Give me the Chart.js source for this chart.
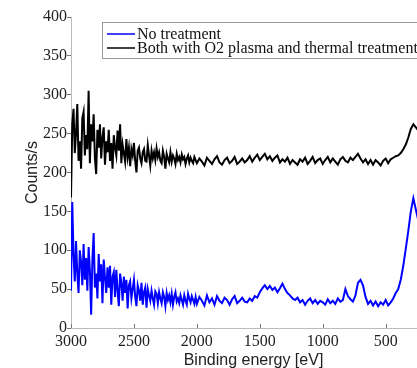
<!DOCTYPE html>
<html>
<head>
<meta charset="utf-8">
<title>XPS survey</title>
<script src="https://cdn.jsdelivr.net/npm/chart.js@4/dist/chart.umd.min.js"></script>
<style>
  html, body { margin: 0; padding: 0; background: #fff; overflow: hidden; }
  #wrap { width: 417px; height: 368px; overflow: hidden; }
</style>
</head>
<body>
<div id="wrap"><canvas id="myChart" width="456" height="368"></canvas></div>
<script>
// binding energy in eV (x axis runs from high to low)
// 10 eV steps over the noisy high-energy end, 20 eV after that
const energy = [
  3000, 2990, 2980, 2970, 2960, 2950, 2940, 2930, 2920, 2910,
  2900, 2890, 2880, 2870, 2860, 2850, 2840, 2830, 2820, 2810,
  2800, 2790, 2780, 2770, 2760, 2750, 2740, 2730, 2720, 2710,
  2700, 2690, 2680, 2670, 2660, 2650, 2640, 2630, 2620, 2610,
  2600, 2590, 2580, 2570, 2560, 2550, 2540, 2530, 2520, 2510,
  2500, 2490, 2480, 2470, 2460, 2450, 2440, 2430, 2420, 2410,
  2400, 2390, 2380, 2370, 2360, 2350, 2340, 2330, 2320, 2310,
  2300, 2290, 2280, 2270, 2260, 2250, 2240, 2230, 2220, 2210,
  2200, 2190, 2180, 2170, 2160, 2150, 2140, 2130, 2120, 2110,
  2100, 2090, 2080, 2070, 2060, 2050, 2040, 2030, 2020, 2010,
  2000, 1980, 1960, 1940, 1920, 1900, 1880, 1860, 1840, 1820,
  1800, 1780, 1760, 1740, 1720, 1700, 1680, 1660, 1640, 1620,
  1600, 1580, 1560, 1540, 1520, 1500, 1480, 1460, 1440, 1420,
  1400, 1380, 1360, 1340, 1320, 1300, 1280, 1260, 1240, 1220,
  1200, 1180, 1160, 1140, 1120, 1100, 1080, 1060, 1040, 1020,
  1000, 980, 960, 940, 920, 900, 880, 860, 840, 820,
  800, 780, 760, 740, 720, 700, 680, 660, 640, 620,
  600, 580, 560, 540, 520, 500, 480, 460, 440, 420,
  400, 380, 360, 340, 320, 300, 280, 260, 240, 220,
  200, 180, 160, 140,
];

const noTreatment = [
  48, 162, 95, 60, 112, 70, 45, 100, 85, 55,
  108, 62, 90, 48, 104, 75, 17, 88, 122, 52,
  70, 38, 95, 60, 82, 32, 88, 65, 45, 78,
  52, 80, 30, 66, 72, 40, 75, 48, 28, 70,
  58, 35, 66, 45, 62, 25, 55, 60, 38, 50,
  62, 40, 28, 55, 48, 35, 58, 30, 46, 52,
  26, 50, 42, 35, 48, 38, 30, 47, 44, 32,
  46, 38, 32, 46, 40, 28, 45, 36, 42, 33,
  44, 30, 40, 46, 34, 38, 32, 42, 36, 30,
  42, 35, 30, 44, 38, 33, 41, 36, 31, 40,
  31, 40, 35, 29, 42, 33, 38, 30, 41, 35,
  32, 39, 36, 30, 37, 41, 32, 35, 39, 34,
  33, 38, 35, 41, 39, 46, 51, 55, 50, 54,
  49, 52, 46, 51, 57, 50, 45, 42, 38, 36,
  39, 33, 36, 30, 35, 38, 32, 36, 31, 35,
  33, 30, 37, 32, 35, 31, 38, 34, 36, 50,
  41, 37, 34, 42, 58, 62, 55, 40, 31, 35,
  29, 34, 28, 33, 30, 36, 29, 33, 38, 45,
  50, 62, 80, 102, 125, 150, 167, 152, 138, 128,
  120, 112, 105, 100,
];

const bothTreated = [
  168, 262, 282, 225, 250, 288, 215, 240, 205, 270,
  278, 222, 248, 230, 305, 212, 262, 240, 275, 218,
  198, 255, 232, 262, 218, 245, 258, 210, 240, 226,
  255, 215, 238, 205, 248, 232, 222, 254, 228, 262,
  212, 236, 225, 214, 243, 220, 232, 208, 230, 222,
  238, 215, 200, 228, 232, 218, 212, 226, 230, 215,
  214, 235, 222, 209, 228, 218, 226, 216, 231, 220,
  226, 215, 212, 228, 220, 205, 224, 218, 213, 226,
  214, 222, 218, 211, 224, 216, 220, 213, 223, 217,
  220, 211, 218, 222, 213, 219, 215, 212, 220, 216,
  212, 218, 214, 209, 219, 215, 211, 217, 221, 213,
  210, 216, 219, 212, 215, 220, 211, 214, 218, 213,
  216, 221, 214, 219, 223, 216, 220, 224, 217, 221,
  215, 219, 222, 213, 217, 214, 219, 211, 216, 213,
  210, 217, 214, 219, 211, 215, 220, 212, 216, 218,
  211, 216, 220, 213, 218, 214, 210, 217, 220, 215,
  213, 219, 216, 220, 224, 218, 213, 217, 211, 216,
  210, 216, 213, 209, 215, 218, 212, 217, 219, 221,
  222, 225, 230, 236, 245, 256, 262, 258, 254, 250,
  248, 246, 244, 242,
];

const seriesLabels = ["No treatment", "Both with O2 plasma and thermal treatment"];
const xTicks = [3000, 2500, 2000, 1500, 1000, 500];

const serif = "'Liberation Serif', 'Times New Roman', serif";
const sans = "'Liberation Sans', Arial, sans-serif";

// legend box drawn inside the axes, like the original figure
const boxLegend = {
  id: "boxLegend",
  afterDraw(chart) {
    const ctx = chart.ctx;
    ctx.save();
    ctx.fillStyle = "#fff";
    ctx.fillRect(103, 23, chart.width, 36);
    ctx.strokeStyle = "#9a9a9a";
    ctx.lineWidth = 1;
    ctx.strokeRect(102.5, 22.5, chart.width, 36);
    ctx.font = "16px " + serif;
    ctx.textBaseline = "middle";
    chart.data.datasets.forEach((ds, i) => {
      const y = 34 + i * 14;
      ctx.strokeStyle = ds.borderColor;
      ctx.lineWidth = 1.5;
      ctx.beginPath();
      ctx.moveTo(107, y);
      ctx.lineTo(135, y);
      ctx.stroke();
      ctx.fillStyle = "#111";
      ctx.fillText(ds.label, 137, y + 1);
    });
    ctx.restore();
  },
};

// small inward tick marks on the energy axis
const innerTicks = {
  id: "innerTicks",
  afterDraw(chart) {
    const ctx = chart.ctx;
    const xs = chart.scales.x;
    ctx.save();
    ctx.strokeStyle = "#777";
    ctx.lineWidth = 1;
    xTicks.forEach((v) => {
      const px = Math.round(xs.getPixelForValue(v)) + 0.5;
      ctx.beginPath();
      ctx.moveTo(px, xs.top);
      ctx.lineTo(px, xs.top - 4);
      ctx.stroke();
    });
    ctx.restore();
  },
};

document.addEventListener("DOMContentLoaded", () => {
  const toPoints = (vals) => energy.map((e, i) => ({ x: e, y: vals[i] }));

  new Chart("myChart", {
    type: "line",
    data: {
      datasets: [
        {
          label: seriesLabels[0],
          data: toPoints(noTreatment),
          borderColor: "#0000ff",
          borderWidth: 2,
          pointRadius: 0,
          tension: 0,
        },
        {
          label: seriesLabels[1],
          data: toPoints(bothTreated),
          borderColor: "#000000",
          borderWidth: 2,
          pointRadius: 0,
          tension: 0,
        },
      ],
    },
    options: {
      responsive: false,
      animation: false,
      devicePixelRatio: 1,
      layout: { padding: { top: 17, right: 20, left: 0, bottom: 0 } },
      plugins: {
        legend: { display: false },
        tooltip: { enabled: false },
      },
      scales: {
        x: {
          type: "linear",
          reverse: true,
          min: 100,
          max: 3000,
          afterBuildTicks: (scale) => {
            scale.ticks = xTicks.map((v) => ({ value: v }));
          },
          afterFit: (scale) => {
            scale.height = 40;
          },
          grid: { display: false, drawTicks: false, tickLength: 0 },
          border: { display: true, color: "#bbbbbb" },
          ticks: {
            autoSkip: false,
            maxRotation: 0,
            padding: 4,
            color: "#222",
            font: { family: serif, size: 16 },
            callback: (v) => String(v),
          },
          title: {
            display: true,
            text: "Binding energy [eV]",
            color: "#222",
            font: { family: sans, size: 16 },
            padding: { top: 0, bottom: -2 },
          },
        },
        y: {
          min: 0,
          max: 400,
          afterFit: (scale) => {
            scale.width = 71;
          },
          grid: {
            drawOnChartArea: false,
            drawTicks: true,
            tickLength: 4,
            color: "#777",
          },
          border: { display: true, color: "#bbbbbb" },
          ticks: {
            stepSize: 50,
            padding: 0,
            color: "#222",
            font: { family: serif, size: 16 },
            callback: (v) => String(v),
          },
          title: {
            display: true,
            text: "Counts/s",
            color: "#222",
            font: { family: sans, size: 16 },
            padding: { top: 23, bottom: 0 },
          },
        },
      },
    },
    plugins: [boxLegend, innerTicks],
  });
});
</script>
</body>
</html>
